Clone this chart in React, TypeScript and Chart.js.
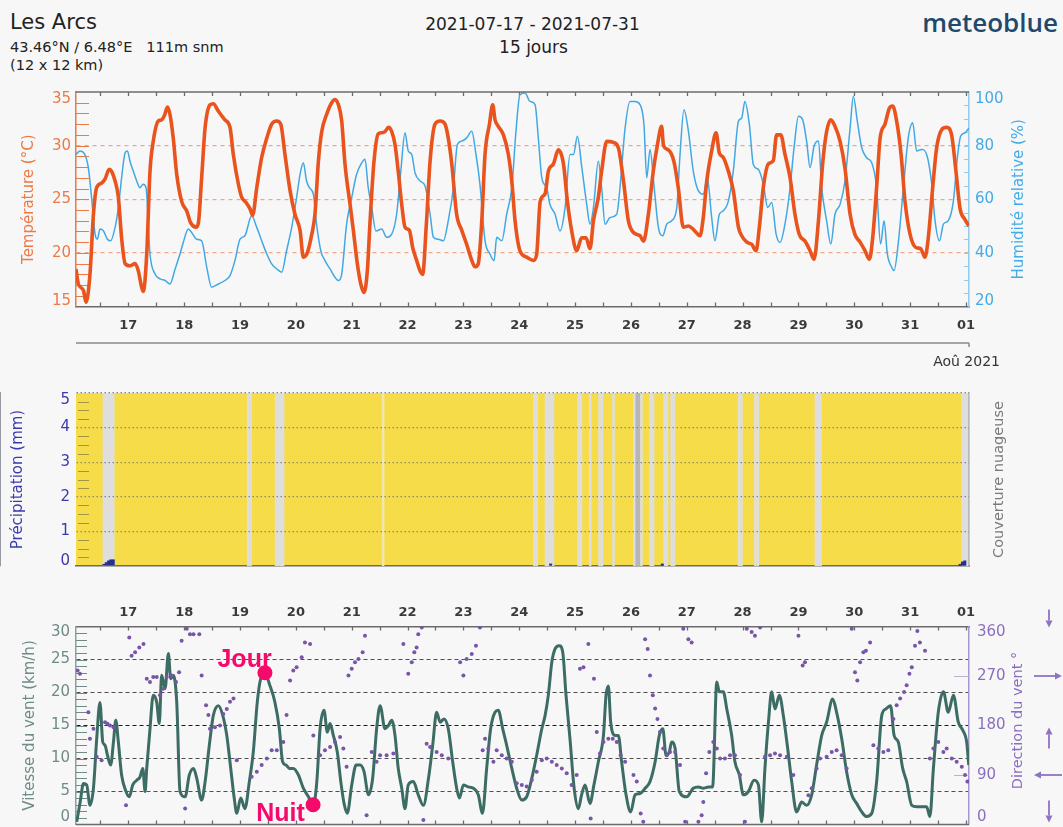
import React, { useEffect, useRef } from 'react';
import { Chart, registerables } from 'chart.js';

Chart.register(...registerables);

// ---------- DATA (hours counted from 16 Jul 2021 00:00) ----------
const X_MIN = 1.5;
const X_MAX = 385.3;

const dayTicks = [24, 48, 72, 96, 120, 144, 168, 192, 216, 240, 264, 288, 312, 336, 360, 384];
const dayLabels = ['17', '18', '19', '20', '21', '22', '23', '24', '25', '26', '27', '28', '29', '30', '31', '01'];

const tempTicks = [15, 20, 25, 30, 35];
const humTicks = [20, 40, 60, 80, 100];
const precipTicks = [0, 1, 2, 3, 4, 5];
const speedTicks = [0, 5, 10, 15, 20, 25, 30];
const dirTicks = [0, 90, 180, 270, 360];

// [hour, °C]
const temperature: [number, number][] = [
  [1.5, 18.5], [2.5, 17.1], [4.7, 16.5], [5.8, 15.4], [7.5, 18.0], [9, 23.6], [10.4, 26.1], [12.5, 26.5], [14, 26.9], [15.8, 27.8],
  [16.8, 27.6], [18.3, 26.7], [19.7, 25.2], [21.1, 21.4], [22.6, 19.0], [24.7, 18.8], [26.9, 19.0], [28.3, 18.3], [29.7, 16.8], [30.4, 16.4],
  [31.9, 19.9], [33.3, 27.6], [34.7, 30.4], [36.9, 32.3], [38.3, 32.4], [39.5, 32.8], [40.8, 33.6], [41.9, 32.9], [43.3, 30.7], [44.8, 27.3],
  [46.9, 24.8], [49.1, 23.9], [50.8, 22.8], [53.1, 22.4], [54.1, 22.8], [55.5, 27.0], [57, 31.7], [59.1, 33.8], [60.5, 33.9], [62.7, 33.2],
  [65.5, 32.4], [67.7, 31.7], [69.1, 29.2], [71.3, 26.4], [72.7, 25.2], [74.6, 24.7], [76.3, 24.1], [77.4, 23.5], [79.2, 26.1], [81.3, 28.9],
  [83.5, 30.7], [85.6, 32.0], [87.8, 32.3], [89.5, 32.0], [91.3, 29.2], [93.5, 25.8], [95.6, 23.6], [97.8, 22.1], [99.2, 19.6], [100.9, 20.0],
  [102.8, 21.7], [104.2, 23.6], [105.7, 28.6], [107.1, 31.3], [109.2, 32.9], [111.4, 34.0], [112.8, 34.3], [114.3, 33.8], [115.7, 32.3], [117.1, 28.3],
  [119.3, 24.5], [120.7, 22.1], [122.4, 19.0], [123.9, 17.1], [125.3, 16.3], [126.7, 18.3], [127.9, 23.0], [129.6, 28.6], [131.4, 31.1], [132.9, 31.2],
  [134.3, 31.3], [135.8, 31.7], [137.2, 31.3], [138.6, 30.1], [140, 27.6], [141.5, 24.5], [142.9, 22.4], [144.8, 22.1], [146.2, 20.5], [147.9, 19.3],
  [149.4, 18.3], [150.5, 18.0], [152, 22.4], [153.7, 28.6], [155.8, 32.0], [158, 32.3], [160.1, 32.0], [161.5, 30.7], [163, 28.3], [165.1, 23.6],
  [167.3, 22.1], [169.4, 20.8], [171.6, 19.3], [173, 18.7], [174.4, 19.0], [175.9, 23.0], [177.3, 29.2], [179.2, 32.0], [180.6, 33.8], [181.6, 32.4],
  [183, 31.8], [185.2, 31.0], [187.3, 29.2], [188.8, 26.7], [190.2, 23.0], [192.3, 20.2], [195.2, 19.6], [198.1, 19.3], [199.5, 19.9], [201, 24.8],
  [203.1, 25.5], [204.5, 27.6], [206.7, 28.3], [208.8, 29.6], [211, 28.3], [212.7, 24.8], [214.5, 22.1], [216.7, 20.2], [218.8, 21.4], [220.7, 21.4],
  [222.4, 20.4], [223.9, 23.0], [226, 25.2], [227.4, 27.6], [229.6, 30.4], [232.5, 30.3], [234.6, 29.8], [236.8, 26.7], [238.9, 23.0], [241.1, 21.9],
  [243.9, 21.6], [245.4, 21.1], [247.5, 23.6], [249.6, 27.6], [251.4, 30.1], [253.2, 31.8], [254, 30.0], [256.1, 29.6], [258.5, 28.5], [260.4, 26.0],
  [262.5, 22.4], [264.7, 22.5], [266.8, 22.2], [269.7, 21.6], [271.1, 23.3], [272.6, 26.7], [274.7, 29.5], [276.6, 31.2], [278, 29.3], [279.7, 28.9],
  [281.9, 27.6], [284, 25.8], [286.2, 22.4], [287.6, 21.6], [289.8, 21.0], [291.9, 20.8], [293.8, 20.2], [295.2, 22.4], [296.9, 26.1], [299.1, 28.3],
  [301.2, 28.6], [302.6, 31.0], [304.4, 31.0], [306.2, 29.2], [308.4, 27.0], [310.5, 23.6], [312.4, 21.7], [314.8, 21.1], [317, 20.2], [318.7, 19.4],
  [320.6, 23.0], [322.4, 28.3], [324.1, 31.3], [325.9, 32.4], [327.7, 31.8], [329.9, 30.4], [332, 27.9], [334.2, 23.6], [336.3, 21.7], [338.5, 21.0],
  [340.6, 20.2], [342.5, 19.4], [343.9, 21.4], [345.6, 26.1], [347.1, 30.7], [349.2, 32.0], [351.1, 33.5], [352.5, 33.7], [354.2, 32.3], [356.1, 29.2],
  [357.8, 24.8], [360, 21.7], [362.5, 20.5], [364.5, 20.4], [366.4, 19.6], [367.8, 21.4], [369.7, 26.1], [371.4, 29.8], [373.6, 31.5], [375.7, 31.7],
  [377.9, 30.9], [379.7, 27.6], [381.4, 24.2], [383.6, 23.1], [385.3, 22.5],
];

// [hour, %]
const humidity: [number, number][] = [
  [1.5, 76.7], [3.2, 78], [5.3, 76.7], [6.8, 71.8], [8.2, 60.6], [9.7, 47], [10.7, 45.1], [11.8, 48.9], [13.3, 48.2], [15, 45.1],
  [16.4, 44.5], [18.3, 49.5], [19.7, 56.9], [21.1, 68], [22.6, 77.3], [23.6, 78], [24.7, 74.2], [26.1, 70.5], [27.6, 66.8], [29, 64.3],
  [30.4, 65.6], [31.6, 64.3], [33.3, 39.6], [35.5, 32.1], [37.6, 30.3], [39.8, 29.7], [41.9, 28.4], [44.1, 34], [46.2, 39.6], [47.6, 43.9],
  [49.8, 48.9], [51.2, 47.6], [53.4, 45.1], [55.5, 44.5], [57.7, 34.6], [59.8, 27.2], [62.7, 28.4], [65.5, 29.7], [67.7, 31.5], [69.8, 37.1],
  [72, 45.1], [74.1, 46.4], [77, 53.8], [79.2, 49.5], [81.3, 44.5], [83.5, 39.6], [85.6, 35.9], [87.8, 34], [89.9, 32.8], [92, 40.8],
  [94.2, 49.5], [96.3, 60.6], [97.8, 69.3], [99.2, 73.6], [100.6, 66.8], [101.8, 64.3], [103.5, 61.9], [104.9, 50.7], [106.7, 40.8], [108.5, 37.1],
  [110.7, 34], [112.8, 30.9], [114.3, 29.7], [115.7, 32.1], [117.8, 50.7], [120, 60.6], [122.1, 69.3], [124.3, 73.6], [125.7, 74.9], [127.1, 64.3],
  [128.6, 56.9], [130.4, 48.2], [132.9, 48.9], [135, 45.8], [137.2, 47], [139.3, 54.4], [141.1, 70.5], [142.9, 84.8], [144.3, 78], [145.8, 76.7],
  [147.2, 69.9], [149.4, 66.8], [151.5, 65], [153.7, 54.4], [155.1, 45.8], [157.2, 45.1], [159.4, 44.5], [161.5, 52], [163.7, 64.3], [165.4, 80.4],
  [167.3, 81.7], [169.4, 82.9], [171.6, 85.4], [173.4, 76.7], [175.1, 65.6], [177.3, 44.5], [179.4, 39.6], [181.2, 37.1], [182.3, 45.8], [184.5, 44.5],
  [186.6, 54.4], [188.8, 64.3], [190.6, 85.4], [192.3, 99], [194.5, 99.6], [196.6, 96.5], [198.8, 95.3], [200.2, 82.9], [201.7, 68], [203.8, 64.3],
  [205.2, 58.1], [207.4, 54.4], [209.5, 48.2], [211.7, 56.9], [213.8, 76.7], [215.3, 76.7], [217, 83.5], [218.9, 71.8], [221, 58.1], [222.4, 50.7],
  [223.9, 56.9], [226, 74.2], [227.4, 64.3], [228.9, 50.7], [231, 53.2], [233.9, 54.4], [235.3, 64.3], [237.5, 86.6], [239.6, 96.5], [241.8, 96.5],
  [243.9, 95.3], [245.6, 87.9], [246.8, 68], [248.2, 78.6], [250, 64.3], [251.8, 49.5], [253.7, 46.4], [255.4, 50.7], [257.5, 52], [259.7, 56.9],
  [261.1, 76.7], [262.8, 93.4], [264.7, 85.4], [266.8, 70.5], [269, 63.1], [271.1, 61.9], [272.8, 68], [274.7, 53.2], [276.1, 44.5], [278, 54.4],
  [279.7, 55.7], [281.9, 59.4], [284, 70.5], [286.2, 89.1], [287.6, 90.3], [289, 96.5], [290.9, 87.9], [292.6, 73], [294.8, 71.1], [296.9, 65.6],
  [298.8, 56.9], [300.5, 58.8], [302.4, 47], [304.1, 43.9], [306.2, 50.7], [308.4, 64.3], [310.1, 79.2], [312, 91], [313.8, 89.7], [315.5, 81.7],
  [317, 71.8], [318.7, 79.8], [320.6, 81.7], [322, 64.3], [324.1, 52], [325.9, 43.3], [327.7, 54.4], [329.9, 58.1], [332, 66.8], [334.2, 86.6],
  [335.6, 98.4], [337.3, 89.1], [339.2, 79.2], [341.3, 75.5], [343.5, 73.6], [345.6, 64.3], [347.3, 43.3], [348.8, 52], [350.2, 39.6], [352.1, 34.6],
  [353.1, 33.4], [355, 44.5], [357.1, 64.3], [359.2, 82.9], [361.1, 88.5], [362.8, 78], [365, 78.6], [367.1, 76.7], [369.3, 65.6], [370.7, 52],
  [372.6, 44.5], [374.3, 50.7], [376.4, 52], [378.6, 59.4], [380.3, 75.5], [381.7, 83.5], [383.6, 84.8], [385.3, 86.6],
];

// hours with cloud cover (start of hour) and cover %
const cloudHours = [13, 14, 15, 16, 17, 75, 76, 87, 88, 89, 90, 133, 198, 199, 203, 204, 205, 206, 217, 218, 222, 226, 227, 232,
  241, 242, 243, 244, 248, 249, 254, 255, 257, 258, 286, 287, 293, 294, 319, 320, 321, 382, 383, 384];
const cloudCover = [60, 60, 60, 60, 60, 60, 60, 60, 60, 60, 60, 25, 60, 60, 60, 60, 60, 60, 60, 60, 60, 60, 60, 60,
  60, 90, 90, 60, 60, 60, 60, 60, 60, 60, 60, 60, 60, 60, 60, 60, 60, 60, 60, 60];

// precipitation (mm) per hour
const precipHours = [13, 14, 15, 16, 17, 205, 253, 381, 382, 383];
const precipValues = [0.05, 0.1, 0.15, 0.18, 0.18, 0.06, 0.06, 0.05, 0.12, 0.15];

// [hour, km/h]
const windSpeed: [number, number][] = [
  [1.8, 0.4], [3.3, 3.4], [4.7, 6.2], [6.1, 6.0], [7.5, 2.9], [9, 5.5], [10.4, 13], [11.8, 18.5], [13, 12.5], [14, 12],
  [15, 10.5], [16.4, 9], [17.6, 12.5], [18.6, 15.8], [19.7, 12.5], [21.1, 7.5], [23, 5], [24.4, 4.2], [25.9, 6], [27.6, 6.7],
  [29, 7.2], [30.2, 8.5], [31.2, 5], [31.9, 8.5], [33.3, 14.5], [34.7, 19.6], [36.2, 18.5], [37.3, 15.3], [38.3, 22.6], [39.8, 20.6],
  [41.2, 25.9], [42.2, 22.1], [43.3, 22.6], [44.8, 18.5], [46.2, 5], [48.4, 4.2], [50.2, 7.5], [52, 8.5], [53.4, 7], [55.5, 3.7],
  [57, 6.5], [58.8, 12], [60.5, 16.5], [62.7, 18], [64.6, 16.5], [66.3, 13.5], [68, 8.5], [69.5, 4], [70.6, 1.7], [72.3, 4],
  [74.1, 2.4], [76, 6.5], [77.7, 11], [79.4, 18.5], [80.9, 22.1], [82.7, 22.8], [84.9, 21], [87, 18.5], [88.9, 14.5], [90.3, 9.5],
  [91.8, 9], [93.2, 8.5], [94.9, 8.5], [97.1, 7.5], [99.2, 5.5], [101.4, 4.2], [103.5, 2.9], [105, 6.5], [106.4, 14.5], [108.1, 17.3],
  [109.5, 14], [110.7, 15.3], [112.1, 13.5], [113.8, 11], [115.3, 6.5], [116.7, 3.2], [118.1, 1.7], [120, 6], [121.9, 9], [123.6, 9],
  [125.3, 8], [127.2, 4.5], [129, 7], [130.7, 14.5], [132.2, 18], [134.3, 14.5], [135.8, 15], [137.2, 15.8], [138.6, 13.5], [140, 8.5],
  [141.5, 5.5], [142.9, 2.4], [144.3, 6], [146.5, 6.5], [148.6, 4.5], [150.8, 2.9], [153, 7], [154.8, 12], [156.5, 17], [158, 15.5],
  [159.7, 16], [161.5, 14.5], [163.4, 9.5], [165.1, 5.5], [166.3, 4], [168, 6], [170.1, 5.7], [172.3, 5.5], [174.4, 4.5], [176.2, 1.7],
  [178, 8.5], [179.7, 14.5], [181.6, 17], [183, 17.3], [184.9, 14.5], [186.6, 12], [188.8, 8.5], [190.9, 5.5], [193.1, 3.7], [195.2, 4.2],
  [197.4, 7], [199.5, 10.5], [201.7, 14.5], [203.1, 16.5], [204.5, 19.6], [206, 24.6], [207.4, 26.6], [209.2, 27.1], [210.7, 26.1], [212.1, 19.6],
  [213.8, 13], [215.6, 5.5], [217.4, 2.4], [218.8, 4.5], [220.3, 6], [222.4, 3.2], [224.1, 6], [226, 9.5], [228.2, 13.5], [229.3, 19.6],
  [230.3, 21], [231.3, 15.5], [233.2, 13.5], [234.6, 13.5], [236, 9.5], [237.9, 4.5], [239.9, 1.9], [241.8, 4.5], [243.9, 4.7], [246.1, 5.5],
  [248.2, 6.5], [250.4, 9.5], [252.2, 13.5], [253.7, 14.5], [255.1, 10.5], [256.5, 11], [257.5, 12.5], [259, 11.5], [260.8, 5], [264, 4.2],
  [266.8, 5.5], [269, 5.7], [271.1, 5.5], [273.3, 5.7], [275.1, 5.7], [276.9, 21.6], [278, 20.1], [279.7, 20.1], [281.2, 17.5], [283.3, 13.5],
  [284.7, 9.5], [286.6, 7.5], [288.3, 4.5], [290.5, 5], [292.9, 6.7], [294.8, 6], [296.2, 0.4], [297.6, 8.5], [299.1, 15.5], [300.5, 20.1],
  [301.9, 17.5], [303.8, 19.6], [305.5, 16.5], [307.2, 12], [309.1, 6.5], [311.2, 1.9], [313.4, 3.4], [315.5, 2.9], [317.7, 4.5], [319.8, 9],
  [322, 13.5], [324.1, 15.5], [326.7, 19], [328.4, 17], [330.6, 13], [332.7, 8], [334.9, 4.5], [337, 3.2], [339.2, 1.9], [341.3, 1.2],
  [343.5, 1.7], [345.6, 6.5], [347.8, 16.5], [349.6, 17.5], [351.6, 18], [353.1, 13.5], [354.9, 12.5], [356.8, 8.5], [358.5, 6.5], [360.7, 2.9],
  [362.8, 2.7], [365.4, 2.7], [367.1, 2.7], [368.5, 1.2], [370, 8.5], [372.1, 17], [374.3, 20.1], [376.4, 17], [378.6, 19.6], [380.7, 15.5],
  [382.6, 14.3], [384.3, 12.5], [385.2, 9],
];

// [hour, degrees]
const windDirection: [number, number][] = [
  [2.2, 280], [3.2, 274], [6.8, 204], [7.5, 156], [9, 174], [10.4, 123], [12.5, 117], [14, 186], [15, 183], [16.1, 180],
  [17.6, 177], [23, 35], [24.4, 340], [25.4, 307], [26.9, 313], [28.7, 322], [30.5, 328], [31.9, 265], [33.3, 259], [34.7, 268],
  [36.2, 268], [37.6, 235], [39, 247], [40.5, 268], [42.6, 271], [44.5, 259], [45.8, 277], [46.9, 334], [48.4, 29], [49.1, 356],
  [50.5, 346], [52, 346], [54.5, 346], [55.5, 271], [57.4, 217], [58.4, 199], [59.1, 174], [61.2, 177], [63.4, 180], [64.8, 201],
  [66.3, 210], [67.7, 223], [69.2, 229], [70.6, 117], [77, 87], [79.2, 96], [81.3, 108], [83.5, 120], [85.6, 135], [87.8, 135],
  [90.6, 150], [92, 199], [93.5, 262], [94.9, 280], [96.3, 286], [98.5, 304], [99.9, 331], [102.1, 328], [103.5, 162], [106.4, 126],
  [108.5, 135], [110.7, 141], [112.8, 150], [115, 159], [116.4, 138], [117.8, 105], [118.6, 271], [120, 283], [121.4, 295], [122.9, 301],
  [124.7, 313], [125.7, 343], [126.4, 17], [128.6, 132], [130.7, 114], [132.2, 126], [135, 126], [137.9, 129], [142.2, 328], [144.3, 274],
  [145.8, 295], [146.9, 313], [147.9, 322], [148.6, 346], [150.1, 358], [150.8, 8], [152.2, 147], [153.7, 141], [156.5, 132], [158.7, 126],
  [161.5, 120], [166.6, 295], [168, 271], [169.4, 301], [171.6, 310], [173.4, 325], [175.1, 358], [176.3, 135], [177.3, 156], [178.7, 138],
  [180.9, 114], [182.3, 135], [184.5, 126], [186.6, 120], [188.8, 114], [190.9, 75], [193.1, 72], [195.2, 69], [197.4, 81], [199.5, 96],
  [201.7, 117], [203.8, 120], [206, 114], [208.1, 108], [210.3, 102], [212.4, 93], [214.5, 72], [216.7, 90], [218.1, 283], [219.6, 286],
  [221.7, 328], [222.7, 11], [224.1, 265], [225.3, 168], [226.7, 129], [228.2, 150], [230.3, 156], [232.2, 156], [233.9, 150], [235.6, 126],
  [237.5, 114], [241.1, 90], [242.5, 78], [244.2, 20], [245.3, 5], [246.1, 337], [247.2, 319], [248.2, 271], [249.4, 235], [250.4, 211],
  [251.4, 192], [252.5, 168], [253.9, 138], [255.4, 126], [256.8, 132], [259, 132], [261.1, 108], [262.5, 356], [263.3, 5], [264.7, 337],
  [266.1, 331], [269, 5], [270.4, 17], [271.1, 41], [272.3, 93], [273.7, 132], [275.4, 150], [276.9, 138], [278.3, 120], [280.4, 120],
  [282.6, 126], [284.7, 126], [286.9, 90], [289, 5], [289.8, 356], [291.9, 350], [293.3, 343], [295.5, 358], [297.6, 123], [299.8, 126],
  [301.9, 129], [304.1, 126], [307, 123], [309.8, 90], [312, 343], [313.8, 289], [314.8, 295], [316.3, 53], [317.7, 66], [319.8, 102],
  [321.3, 120], [324.1, 123], [326.3, 132], [328.4, 135], [330.6, 126], [332.7, 102], [334.9, 356], [336.3, 277], [337.3, 262], [338.5, 295],
  [339.9, 313], [341, 316], [342.8, 331], [344.2, 144], [346.3, 138], [348.5, 132], [350.6, 135], [352.8, 192], [354.2, 217], [355.7, 229],
  [357.4, 241], [358.5, 253], [359.7, 274], [360.7, 286], [362.1, 325], [363.1, 352], [364.2, 331], [366.4, 316], [368.5, 120], [370, 138],
  [372.1, 150], [374.3, 132], [375.7, 138], [377.9, 120], [380, 114], [382.2, 105], [383.6, 90], [384.6, 78],
];

// annotations on the wind curve
const markLabels = ['Jour', 'Nuit'];
const markHours = [82.7, 103.4];
const markSpeeds = [23, 3];

// ---------- STYLE ----------
const FONT = '"DejaVu Sans", "Liberation Sans", sans-serif';
const BG = '#f7f7f7';
const TEMP = '#e9531d';
const TEMP_TXT = '#ec7a45';
const HUM = '#41a8e4';
const HUM_TXT = '#45abe6';
const PRECIP = '#26308e';
const PRECIP_TXT = '#3a3ab0';
const YELLOW = '#f7dc4a';
const WIND = '#3c6c64';
const WIND_TXT = '#6f8b88';
const DIR = '#7855a8';
const DIR_TXT = '#8b6fbe';
const PINK = '#f5096b';
const FRAME = '#6b6b6b';
const NONE = 'rgba(0,0,0,0)';

Chart.defaults.font.family = FONT;

function cloudColor(c: number) {
  if (c >= 80) return '#b6b6b6';
  if (c >= 40) return '#dedede';
  return '#efe6b0';
}

function hline(ctx: CanvasRenderingContext2D, x1: number, x2: number, y: number) {
  ctx.beginPath(); ctx.moveTo(x1, y); ctx.lineTo(x2, y); ctx.stroke();
}
function vline(ctx: CanvasRenderingContext2D, x: number, y1: number, y2: number) {
  ctx.beginPath(); ctx.moveTo(x, y1); ctx.lineTo(x, y2); ctx.stroke();
}
function vtext(ctx: CanvasRenderingContext2D, text: string, x: number, y: number, size: number, color: string) {
  ctx.save();
  ctx.translate(x, y);
  ctx.rotate(-Math.PI / 2);
  ctx.font = `${size}px ${FONT}`;
  ctx.fillStyle = color;
  ctx.textAlign = 'center';
  ctx.textBaseline = 'middle';
  ctx.fillText(text, 0, 0);
  ctx.restore();
}
function edgeLabels(ctx: CanvasRenderingContext2D, scale: any, values: number[], x: number, align: CanvasTextAlign,
  a: any, topOff: number, botOff: number, color: string, size: number) {
  ctx.save();
  ctx.font = `${size}px ${FONT}`;
  ctx.fillStyle = color;
  ctx.textAlign = align;
  ctx.textBaseline = 'middle';
  values.forEach((v) => {
    let py = scale.getPixelForValue(v);
    py = Math.max(a.top + topOff, Math.min(a.bottom - botOff, py));
    ctx.fillText(String(v), x, py);
  });
  ctx.restore();
}
function timeTicks(ctx: CanvasRenderingContext2D, xs: any, a: any, len: number) {
  ctx.save();
  ctx.strokeStyle = FRAME;
  ctx.lineWidth = 1.3;
  for (let h = 12; h < X_MAX; h += 12) {
    const px = Math.round(xs.getPixelForValue(h)) + 0.5;
    vline(ctx, px, a.top, a.top + len);
    vline(ctx, px, a.bottom - len, a.bottom);
  }
  ctx.restore();
}
function arrow(ctx: CanvasRenderingContext2D, x1: number, y1: number, x2: number, y2: number, head: number) {
  const ang = Math.atan2(y2 - y1, x2 - x1);
  const bx = x2 - head * Math.cos(ang);
  const by = y2 - head * Math.sin(ang);
  ctx.beginPath(); ctx.moveTo(x1, y1); ctx.lineTo(bx, by); ctx.stroke();
  ctx.beginPath();
  ctx.moveTo(x2, y2);
  ctx.lineTo(bx + head * 0.5 * Math.sin(ang), by - head * 0.5 * Math.cos(ang));
  ctx.lineTo(bx - head * 0.5 * Math.sin(ang), by + head * 0.5 * Math.cos(ang));
  ctx.closePath();
  ctx.fill();
}

const dayTickCallback = (v: any) => {
  const i = dayTicks.indexOf(Number(v));
  return i >= 0 ? dayLabels[i] : '';
};

const baseOpts = {
  responsive: false,
  animation: false as const,
  events: [] as any[],
  plugins: { legend: { display: false }, tooltip: { enabled: false } },
};

export default function App() {
  const c1 = useRef<HTMLCanvasElement>(null);
  const c2 = useRef<HTMLCanvasElement>(null);
  const c3 = useRef<HTMLCanvasElement>(null);

  useEffect(() => {
    document.body.style.margin = '0';
    document.body.style.background = BG;

    // ---------------- TOP: temperature / humidity ----------------
    const topDecor = {
      id: 'topDecor',
      beforeDatasetsDraw(chart: any) {
        const { ctx, chartArea: a, scales } = chart;
        ctx.save();
        ctx.strokeStyle = TEMP_TXT;
        ctx.lineWidth = 1;
        for (let v = 16; v < 35; v += 1) {
          const py = Math.round(scales.y.getPixelForValue(v)) + 0.5;
          hline(ctx, a.left, a.left + 13, py);
        }
        ctx.strokeStyle = '#93cbeb';
        for (let v = 25; v < 100; v += 5) {
          const py = Math.round(scales.y2.getPixelForValue(v)) + 0.5;
          hline(ctx, a.right - 5, a.right, py);
        }
        ctx.restore();
        timeTicks(ctx, scales.x, a, 4);
      },
      afterDraw(chart: any) {
        const { ctx, chartArea: a, scales } = chart;
        ctx.save();
        ctx.strokeStyle = FRAME;
        ctx.lineWidth = 1.5;
        hline(ctx, a.left, a.right, a.top);
        // secondary month axis
        ctx.strokeStyle = '#8a8a8a';
        hline(ctx, a.left, a.right, a.bottom + 36.5);
        vline(ctx, a.right, a.bottom + 36.5, a.bottom + 40.5);
        ctx.fillStyle = '#333';
        ctx.font = `14px ${FONT}`;
        ctx.textAlign = 'right';
        ctx.textBaseline = 'middle';
        ctx.fillText('Aoû 2021', 1000, a.bottom + 55.5);
        ctx.restore();
        edgeLabels(ctx, scales.y, tempTicks, a.left - 5, 'right', a, 7, 5.5, TEMP_TXT, 15);
        edgeLabels(ctx, scales.y2, humTicks, a.right + 6, 'left', a, 7, 5.5, HUM_TXT, 15);
        const mid = (a.top + a.bottom) / 2;
        vtext(ctx, 'Température (°C)', 29, mid, 15, TEMP_TXT);
        vtext(ctx, 'Humidité relative (%)', 1019.5, mid, 15, HUM_TXT);
      },
    };

    const chart1 = new Chart(c1.current as HTMLCanvasElement, {
      type: 'line',
      data: {
        datasets: [
          {
            label: 'Température',
            data: temperature.map(([x, y]) => ({ x, y })),
            borderColor: TEMP,
            borderWidth: 3.6,
            pointRadius: 0,
            cubicInterpolationMode: 'monotone',
            borderJoinStyle: 'round',
            yAxisID: 'y',
            order: 1,
          },
          {
            label: 'Humidité',
            data: humidity.map(([x, y]) => ({ x, y })),
            borderColor: HUM,
            borderWidth: 1.5,
            pointRadius: 0,
            cubicInterpolationMode: 'monotone',
            yAxisID: 'y2',
            order: 2,
          },
        ],
      },
      options: {
        ...baseOpts,
        layout: { autoPadding: false, padding: { top: 12, left: 0, right: 0, bottom: 0 } },
        scales: {
          x: {
            type: 'linear', position: 'bottom', min: X_MIN, max: X_MAX,
            afterFit: (s: any) => { s.height = 73.5; },
            afterBuildTicks: (s: any) => { s.ticks = dayTicks.map((v) => ({ value: v })); },
            ticks: { autoSkip: false, maxRotation: 0, minRotation: 0, padding: 11, color: '#3a3a3a', font: { size: 13, weight: 'bold' }, callback: dayTickCallback },
            grid: { display: false, drawTicks: false },
            border: { display: true, color: FRAME, width: 1.5 },
          },
          y: {
            position: 'left', min: 15, max: 35,
            afterFit: (s: any) => { s.width = 76; },
            ticks: { display: false, stepSize: 5 },
            grid: {
              drawTicks: false, lineWidth: 1.2,
              color: (c: any) => (c.tick && [20, 25, 30].includes(c.tick.value) ? '#f2a583' : NONE),
            },
            border: { color: TEMP_TXT, width: 1.5, dash: [4, 4] },
          },
          y2: {
            position: 'right', min: 20, max: 100,
            afterFit: (s: any) => { s.width = 94; },
            ticks: { display: false },
            grid: { display: false, drawTicks: false },
            border: { color: '#93cbeb', width: 1.5 },
          },
        },
      } as any,
      plugins: [topDecor],
    });

    // ---------------- MIDDLE: precipitation / cloud cover ----------------
    const midDecor = {
      id: 'midDecor',
      beforeDraw(chart: any) {
        const { ctx, chartArea: a } = chart;
        ctx.save();
        ctx.fillStyle = YELLOW;
        ctx.fillRect(a.left, a.top, a.right - a.left, a.bottom - a.top);
        ctx.restore();
      },
      afterDatasetsDraw(chart: any) {
        const { ctx, chartArea: a, scales } = chart;
        ctx.save();
        ctx.strokeStyle = 'rgba(95,90,60,0.55)';
        ctx.lineWidth = 1;
        for (let v = 0.25; v < 5; v += 0.25) {
          if (Math.abs(v - Math.round(v)) < 0.01) continue;
          const py = Math.round(scales.y.getPixelForValue(v)) + 0.5;
          hline(ctx, a.left + 2, a.left + 13, py);
        }
        ctx.restore();
      },
      afterDraw(chart: any) {
        const { ctx, chartArea: a, scales } = chart;
        edgeLabels(ctx, scales.y, precipTicks, a.left - 6, 'right', a, 7.5, 4.5, PRECIP_TXT, 15);
        const mid = (a.top + a.bottom) / 2;
        vtext(ctx, 'Précipitation (mm)', 18.5, mid, 15, PRECIP_TXT);
        vtext(ctx, 'Couverture nuageuse', 999, mid, 14.5, '#7a7a7a');
      },
    };

    const chart2 = new Chart(c2.current as HTMLCanvasElement, {
      type: 'bar',
      data: {
        datasets: [
          {
            label: 'Précipitation',
            data: precipHours.map((h, i) => ({ x: h + 0.5, y: precipValues[i] })),
            backgroundColor: PRECIP,
            borderWidth: 0,
            grouped: false,
            barPercentage: 1,
            categoryPercentage: 1,
            yAxisID: 'y',
            order: 1,
          },
          {
            label: 'Couverture nuageuse',
            data: cloudHours.map((h) => ({ x: h + 0.5, y: 1 })),
            backgroundColor: cloudCover.map((c) => cloudColor(c)),
            borderWidth: 0,
            grouped: false,
            barPercentage: 1.1,
            categoryPercentage: 1,
            yAxisID: 'yc',
            order: 2,
          },
        ],
      },
      options: {
        ...baseOpts,
        layout: { autoPadding: false, padding: { top: 13, left: 0, right: 0, bottom: 0 } },
        scales: {
          x: {
            type: 'linear', min: X_MIN, max: X_MAX, offset: false,
            afterFit: (s: any) => { s.height = 14; },
            ticks: { display: false },
            grid: { display: false, drawTicks: false },
            border: { display: true, color: FRAME, width: 1.5 },
          },
          y: {
            position: 'left', min: 0, max: 5,
            afterFit: (s: any) => { s.width = 76; },
            ticks: { display: false, stepSize: 1 },
            grid: {
              drawTicks: false, lineWidth: 1.3, z: 1,
              color: (c: any) => (c.tick && c.tick.value > 0 ? '#858585' : NONE),
            },
            border: { color: '#7a7a8a', width: 1.5, dash: [1.5, 2.5] },
          },
          yc: { display: false, min: 0, max: 1 },
          yr: {
            position: 'right', min: 0, max: 1,
            afterFit: (s: any) => { s.width = 94; },
            ticks: { display: false },
            grid: { display: false, drawTicks: false },
            border: { color: '#a0a0a0', width: 1.5 },
          },
        },
      } as any,
      plugins: [midDecor],
    });

    // ---------------- BOTTOM: wind ----------------
    const botDecor = {
      id: 'botDecor',
      beforeDatasetsDraw(chart: any) {
        const { ctx, chartArea: a, scales } = chart;
        ctx.save();
        ctx.strokeStyle = WIND_TXT;
        ctx.lineWidth = 1;
        for (let v = 1; v < 30; v += 1) {
          const py = Math.round(scales.y.getPixelForValue(v)) + 0.5;
          hline(ctx, a.left, a.left + 11, py);
        }
        ctx.strokeStyle = '#b9b0cf';
        [90, 270].forEach((v) => {
          const py = Math.round(scales.y2.getPixelForValue(v)) + 0.5;
          hline(ctx, a.right - 15, a.right, py);
        });
        ctx.restore();
        timeTicks(ctx, scales.x, a, 4);
      },
      afterDatasetsDraw(chart: any) {
        const { ctx } = chart;
        const meta = chart.getDatasetMeta(0);
        const offs = [[6.7, -6], [-8.3, 16]];
        ctx.save();
        ctx.font = `bold 25px "Liberation Sans", Arial, sans-serif`;
        ctx.fillStyle = PINK;
        ctx.textAlign = 'right';
        ctx.textBaseline = 'alphabetic';
        meta.data.forEach((pt: any, i: number) => {
          const o = offs[i] || [0, 0];
          ctx.fillText(markLabels[i], pt.x + o[0], pt.y + o[1]);
        });
        ctx.restore();
      },
      afterDraw(chart: any) {
        const { ctx, chartArea: a, scales } = chart;
        ctx.save();
        ctx.strokeStyle = FRAME;
        ctx.lineWidth = 1.5;
        hline(ctx, a.left, a.right, a.bottom);
        // direction arrows
        ctx.strokeStyle = '#8e72c4';
        ctx.fillStyle = '#8e72c4';
        ctx.lineWidth = 1.8;
        const ax = 1049;
        const p360 = scales.y2.getPixelForValue(360);
        const p270 = scales.y2.getPixelForValue(270);
        const p180 = scales.y2.getPixelForValue(180);
        const p90 = scales.y2.getPixelForValue(90);
        const p0 = scales.y2.getPixelForValue(0);
        arrow(ctx, ax, p360 - 17, ax, p360 + 1, 7);
        arrow(ctx, 1034, p270, 1062, p270, 7);
        arrow(ctx, ax, p180 + 23, ax, p180 + 2, 7);
        arrow(ctx, 1062, p90, 1034, p90, 7);
        arrow(ctx, ax, p0 - 24, ax, p0 - 2, 7);
        ctx.restore();
        edgeLabels(ctx, scales.y, speedTicks, a.left - 6, 'right', a, 5.5, 7, WIND_TXT, 15);
        edgeLabels(ctx, scales.y2, dirTicks, a.right + 8, 'left', a, 6, 7, DIR_TXT, 15);
        const mid = (a.top + a.bottom) / 2;
        vtext(ctx, 'Vitesse du vent (km/h)', 30, mid, 15, WIND_TXT);
        vtext(ctx, 'Direction du vent °', 1018, mid - 5, 14.5, DIR_TXT);
      },
    };

    const chart3 = new Chart(c3.current as HTMLCanvasElement, {
      type: 'line',
      data: {
        datasets: [
          {
            label: 'Jour / Nuit',
            data: markHours.map((x, i) => ({ x, y: markSpeeds[i] })),
            showLine: false,
            pointRadius: 7.5,
            pointBackgroundColor: PINK,
            pointBorderWidth: 0,
            borderWidth: 0,
            yAxisID: 'y',
            order: 0,
          },
          {
            label: 'Direction du vent',
            data: windDirection.map(([x, y]) => ({ x, y })),
            showLine: false,
            pointRadius: 2,
            pointBackgroundColor: DIR,
            pointBorderWidth: 0,
            borderWidth: 0,
            yAxisID: 'y2',
            order: 1,
          },
          {
            label: 'Vitesse du vent',
            data: windSpeed.map(([x, y]) => ({ x, y })),
            borderColor: WIND,
            borderWidth: 3,
            pointRadius: 0,
            cubicInterpolationMode: 'monotone',
            borderJoinStyle: 'round',
            yAxisID: 'y',
            order: 2,
          },
        ],
      },
      options: {
        ...baseOpts,
        layout: { autoPadding: false, padding: { top: 0, left: 0, right: 0, bottom: 2.5 } },
        scales: {
          x: {
            type: 'linear', position: 'top', min: X_MIN, max: X_MAX,
            afterFit: (s: any) => { s.height = 31.5; },
            afterBuildTicks: (s: any) => { s.ticks = dayTicks.map((v) => ({ value: v })); },
            ticks: { autoSkip: false, maxRotation: 0, minRotation: 0, padding: 6, color: '#3a3a3a', font: { size: 13, weight: 'bold' }, callback: dayTickCallback },
            grid: { display: false, drawTicks: false },
            border: { display: true, color: FRAME, width: 1.5 },
          },
          y: {
            position: 'left', min: 0, max: 30,
            afterFit: (s: any) => { s.width = 76; },
            ticks: { display: false, stepSize: 5 },
            grid: {
              drawTicks: false, lineWidth: 1,
              color: (c: any) => {
                if (!c.tick) return NONE;
                const v = c.tick.value;
                if (v <= 0 || v >= 30) return NONE;
                return v === 15 ? '#1a1a1a' : '#4f4f4f';
              },
            },
            border: { color: '#8aa3a0', width: 1.5, dash: [4, 3] },
          },
          y2: {
            position: 'right', min: 0, max: 360,
            afterFit: (s: any) => { s.width = 94; },
            ticks: { display: false, stepSize: 90 },
            grid: { display: false, drawTicks: false },
            border: { color: '#a896cf', width: 1.5 },
          },
        },
      } as any,
      plugins: [botDecor],
    });

    return () => {
      chart1.destroy();
      chart2.destroy();
      chart3.destroy();
    };
  }, []);

  const txt = (extra: React.CSSProperties): React.CSSProperties => ({
    position: 'absolute',
    whiteSpace: 'pre',
    color: '#222',
    fontFamily: FONT,
    ...extra,
  });

  return (
    <div style={{ position: 'absolute', left: 0, top: 0, width: 1063, height: 827, background: BG, overflow: 'hidden' }}>
      <div style={txt({ left: 10, top: 9, fontSize: 21, lineHeight: '26px' })}>Les Arcs</div>
      <div style={txt({ left: 10, top: 38, fontSize: 14.5, lineHeight: '18px' })}>43.46°N / 6.48°E   111m snm</div>
      <div style={txt({ left: 10, top: 56, fontSize: 14.5, lineHeight: '18px' })}>(12 x 12 km)</div>
      <div style={txt({ left: 0, width: 1065, top: 13, fontSize: 17, lineHeight: '22px', textAlign: 'center' })}>2021-07-17 - 2021-07-31</div>
      <div style={txt({ left: 0, width: 1067, top: 36, fontSize: 17, lineHeight: '22px', textAlign: 'center' })}>15 jours</div>
      <div style={txt({ right: 5, top: 6, fontSize: 26, lineHeight: '32px', fontFamily: '"Open Sans", "DejaVu Sans", sans-serif', fontWeight: 600, color: '#1f4a6e' })}>meteoblue</div>
      <canvas ref={c1} width={1063} height={300} style={{ position: 'absolute', left: 0, top: 80 }} />
      <canvas ref={c2} width={1063} height={200} style={{ position: 'absolute', left: 0, top: 380 }} />
      <canvas ref={c3} width={1063} height={232} style={{ position: 'absolute', left: 0, top: 595 }} />
    </div>
  );
}
